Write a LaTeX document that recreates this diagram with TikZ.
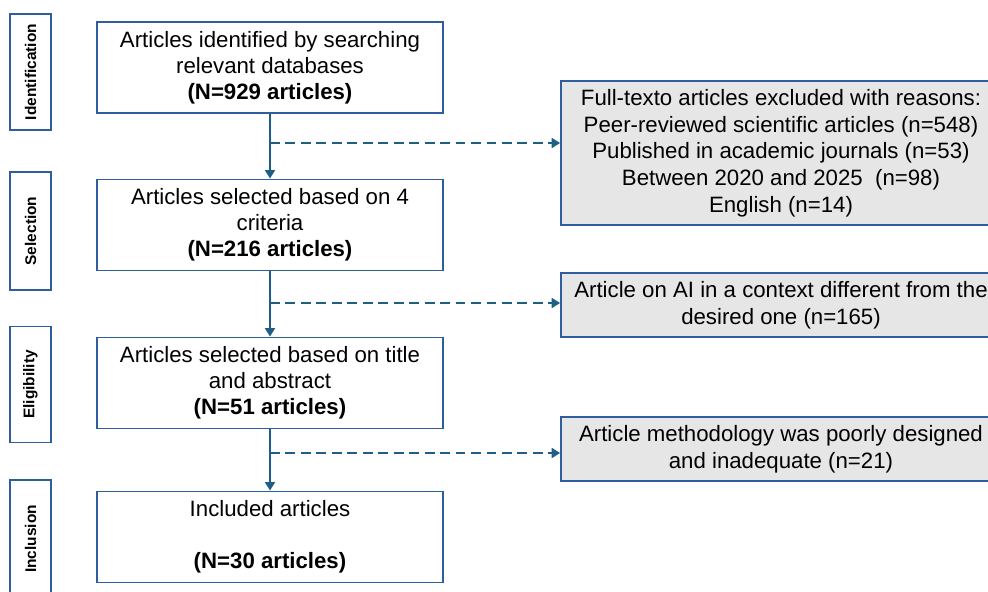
\documentclass[tikz,border=0pt]{standalone}
\usepackage{fontspec}
\setmainfont{Liberation Sans}
\usepackage{tikz}
\usetikzlibrary{arrows.meta,calc}
\definecolor{boxblue}{HTML}{2F5E9E}
\definecolor{flowblue}{HTML}{1F5F86}
\definecolor{notegray}{HTML}{E6E6E6}
\tikzset{
  mainbox/.style={draw=boxblue,line width=1.3pt,fill=white,minimum width=8.65cm,minimum height=2.275cm,align=center,font=\fontsize{15.8}{18.5}\selectfont,inner sep=2pt},
  sidebox/.style={draw=boxblue,line width=1.3pt,fill=white,rotate=90,minimum height=1.025cm,align=center,font=\fontsize{11}{12}\selectfont\bfseries,inner sep=1pt},
  notebox/.style={draw=boxblue,line width=1.1pt,fill=notegray,minimum width=11cm,align=center,font=\fontsize{15.8}{19}\selectfont,inner sep=2pt},
  flow/.style={draw=flowblue,line width=1.8pt,-{Triangle[length=6pt,width=7pt]}},
  dflow/.style={flow,dash pattern=on 7pt off 4pt}
}
\begin{document}
\begin{tikzpicture}[x=0.025cm,y=-0.025cm]
  \clip (0,0) rectangle (988,592);
  \fill[white] (0,0) rectangle (988,592);
  % phases
  \node[sidebox,minimum width=2.9cm] (ph1) at (30.5,72) {Identification};
  \node[sidebox,minimum width=2.95cm] (ph2) at (30.5,231) {Selection};
  \node[sidebox,minimum width=2.9cm] (ph3) at (30.5,384.5) {Eligibility};
  \node[sidebox,minimum width=2.95cm] (ph4) at (30.5,539) {Inclusion};
  % main flow
  \node[mainbox] (b1) at (270,67.5) {Articles identified by searching\\relevant databases\\\textbf{(N=929 articles)}};
  \node[mainbox] (b2) at (270,225) {Articles selected based on 4\\criteria\\\textbf{(N=216 articles)}};
  \node[mainbox] (b3) at (270,383) {Articles selected based on title\\and abstract\\\textbf{(N=51 articles)}};
  \node[mainbox] (b4) at (270,537) {Included articles\\~\\\textbf{(N=30 articles)}};
  % exclusions
  \node[notebox,minimum height=3.6cm] (r1) at (781,153) {Full-texto articles excluded with reasons:\\Peer-reviewed scientific articles (n=548)\\Published in academic journals (n=53)\\Between 2020 and 2025~~(n=98)\\English (n=14)};
  \node[notebox,minimum height=1.6cm] (r2) at (781,305) {Article on AI in a context different from the\\desired one (n=165)};
  \node[notebox,minimum height=1.6cm] (r3) at (781,449) {Article methodology was poorly designed\\and inadequate (n=21)};
  % arrows
  \draw[flow] (b1) -- (b2);
  \draw[flow] (b2) -- (b3);
  \draw[flow] (b3) -- (b4);
  \coordinate (k1) at (270,143);
  \coordinate (k2) at (270,303);
  \coordinate (k3) at (270,453);
  \draw[dflow] (k1) -- (k1 -| r1.west);
  \draw[dflow] (k2) -- (k2 -| r2.west);
  \draw[dflow] (k3) -- (k3 -| r3.west);
\end{tikzpicture}
\end{document}
